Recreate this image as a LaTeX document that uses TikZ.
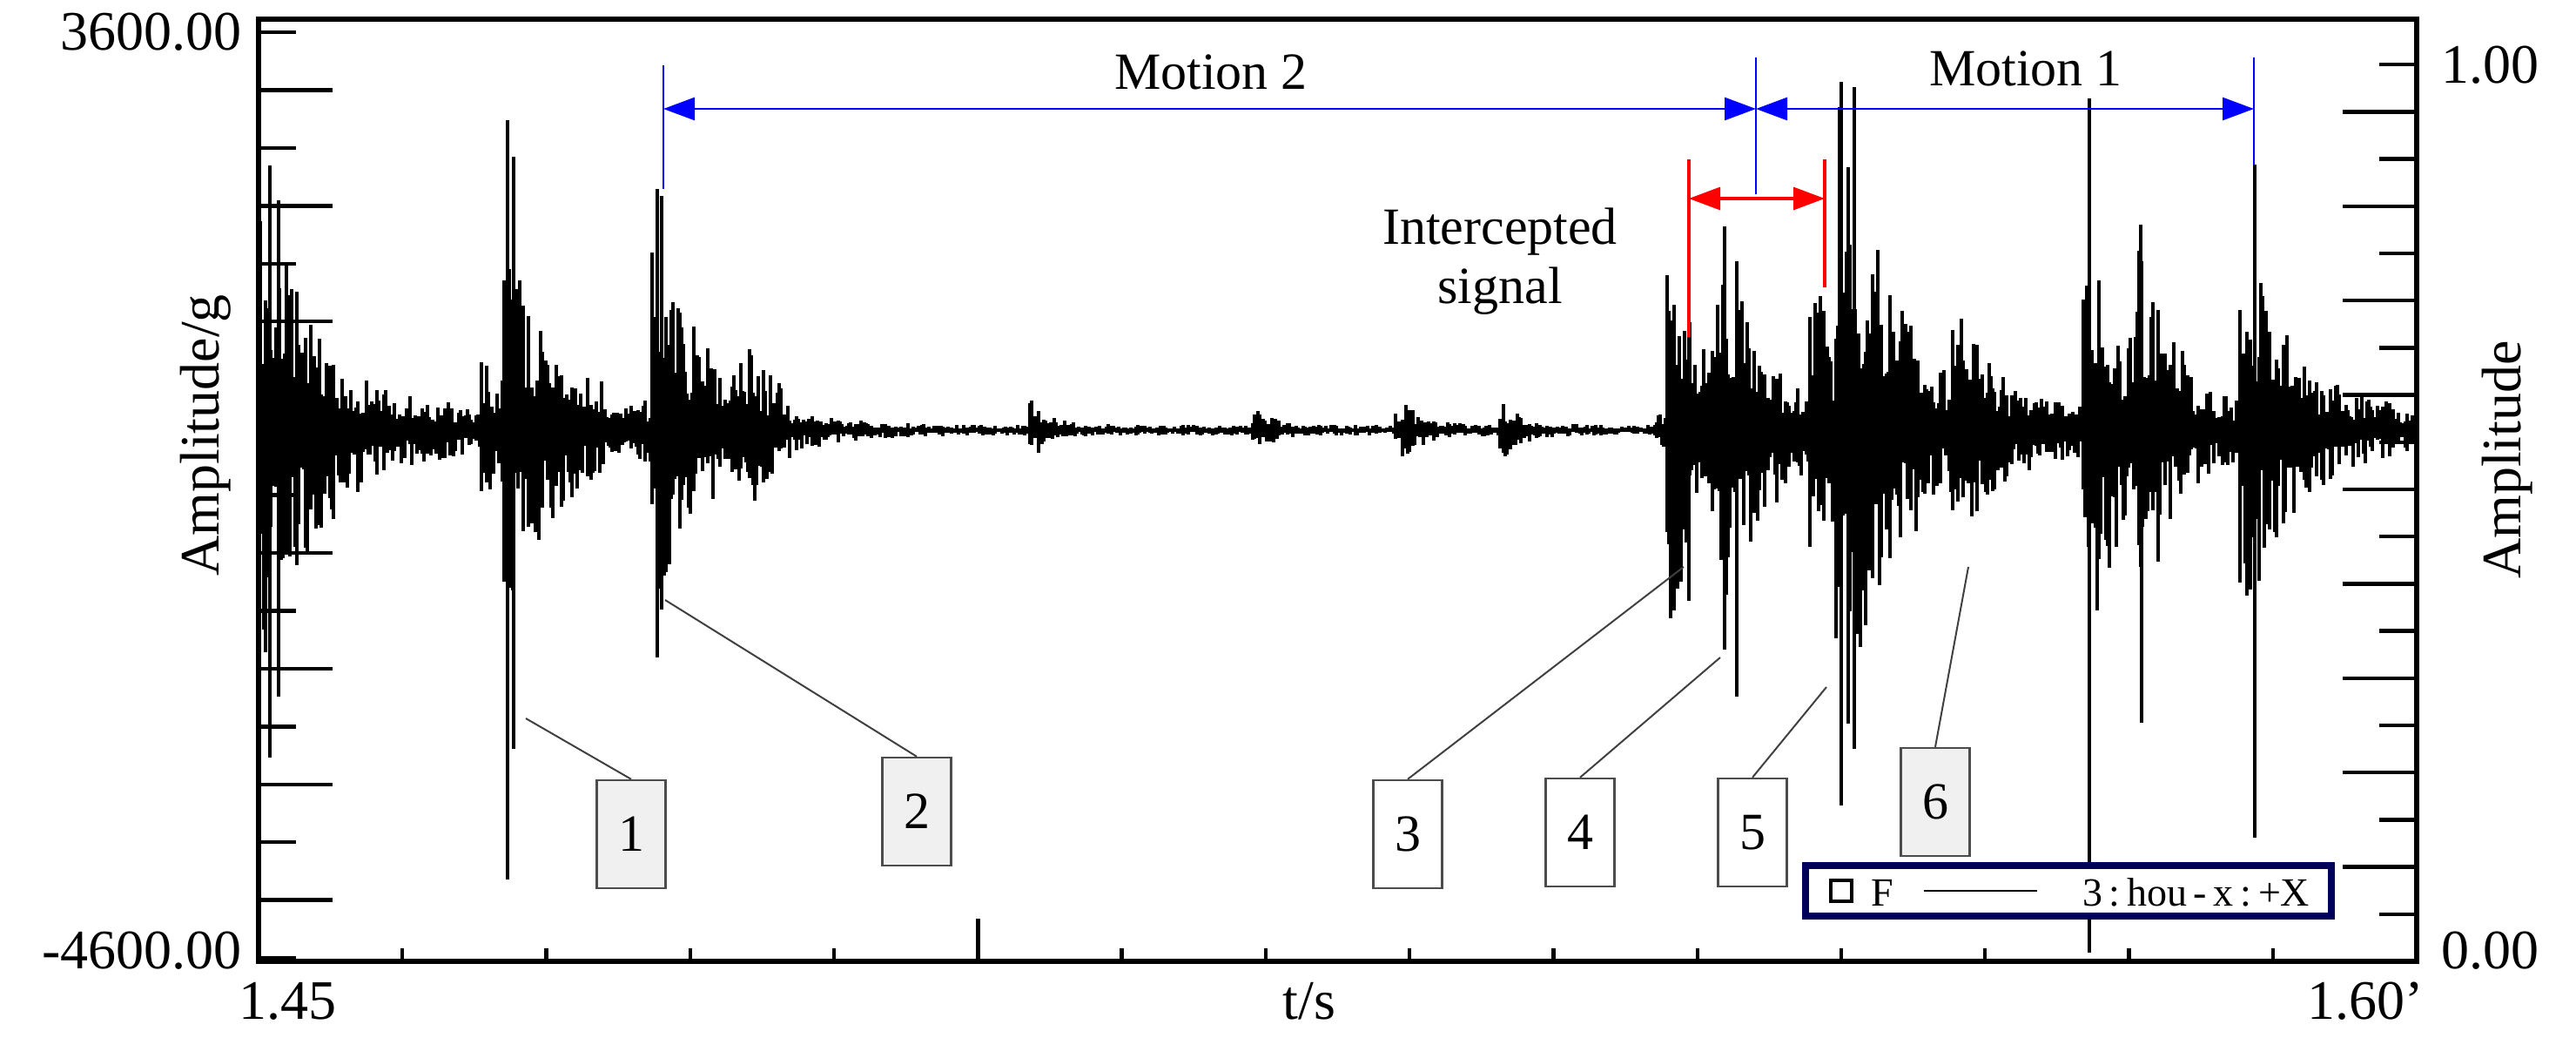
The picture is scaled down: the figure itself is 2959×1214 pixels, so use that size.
\documentclass[tikz,border=0pt]{standalone}
\usepackage{fontspec}
\setmainfont{Liberation Serif}
\usetikzlibrary{arrows.meta}
\pgfmathdeclarefunction{B}{4}{\pgfmathparse{#3*exp(-min(max(#1-#2,0)/#4,8))*(#1>#2-8)}}
\begin{document}
\begin{tikzpicture}[x=0.25pt,y=-0.25pt,
  sig/.style={line width=0.8pt,black},
  tick/.style={line width=1.1pt},
  lbl/.style={draw=black!70,line width=0.6pt,minimum width=19.75pt,minimum height=31pt,inner sep=0pt,font=\fontsize{15}{15}\selectfont},
  lead/.style={black!75,line width=0.5pt},
  ax/.style={font=\fontsize{16}{16}\selectfont},
  bl/.style={blue,line width=0.7pt},
  rd/.style={red,line width=0.8pt},
  tip/.style={{Triangle[length=9pt,width=6.5pt]}-{Triangle[length=9pt,width=6.5pt]}},
  declare function={env(\x)=6+14*(\x<900)+16*(\x>1900)
   +B(\x,297,280,70)+B(\x,560,55,30)+B(\x,583,170,70)+B(\x,755,200,60)+B(\x,850,60,30)
   +B(\x,1190,28,20)+B(\x,1445,22,20)+B(\x,1610,28,25)+B(\x,1730,28,20)
   +B(\x,1922,200,45)+B(\x,1980,180,45)+B(\x,2085,150,35)+B(\x,2115,300,70)
   +B(\x,2250,80,40)+B(\x,2400,240,45)+B(\x,2460,150,40)+B(\x,2580,200,55);}]
\useasboundingbox (0,0) rectangle (2959,1214);
\pgfmathsetseed{7}
% signal
\foreach \x in {299,301,...,2773}{
  \pgfmathsetmacro\e{env(\x)}
  \pgfmathsetmacro\u{\e*(0.25+0.75*rnd^2)}
  \pgfmathsetmacro\d{\e*(0.25+0.75*rnd^2)}
  \draw[sig] (\x,494-\u) -- (\x,494+\d);
}
% explicit spikes
\foreach \x/\a/\b in {583/138/1010,590/180/860,755/217/755,760/225/700,1940/270/690,1995/300/800,2115/94/925,2130/100/860,2400/113/1094,2460/300/830,2590/189/962,310/190/870,320/230/800}
  \draw[sig,line width=1.1pt] (\x,\a) -- (\x,\b);
% frame
\draw[line width=1.3pt] (297,22) rectangle (2776,1104);
\foreach \k in {0,...,16}{
  \pgfmathsetmacro\yy{37+66.44*\k}
  \pgfmathtruncatemacro\odd{mod(\k,2)}
  \ifnum\odd=1 \draw[tick] (297,\yy) -- (382,\yy); \else \draw[tick] (297,\yy) -- (340,\yy); \fi
}
\foreach \k in {1,...,19}{
  \pgfmathsetmacro\yy{1104-54.2*\k}
  \pgfmathtruncatemacro\odd{mod(\k,2)}
  \ifnum\odd=0 \draw[tick] (2776,\yy) -- (2691,\yy); \else \draw[tick] (2776,\yy) -- (2733,\yy); \fi
}
\foreach \k in {1,...,14}{
  \pgfmathsetmacro\xx{297+165.27*\k}
  \ifnum\k=5 \draw[tick] (\xx,1104) -- (\xx,1055); \else \draw[tick] (\xx,1104) -- (\xx,1089); \fi
}
% axis labels
\node[ax,anchor=east] (ytop) at (292,37) {3600.00};
\node[ax,anchor=east] (ybot) at (292,1092) {-4600.00};
\node[ax,anchor=west] (rtop) at (2790,75) {1.00};
\node[ax,anchor=west] (rbot) at (2790,1092) {0.00};
\node[ax] (x0) at (330,1150) {1.45};
\node[ax] (x1) at (2717,1150) {1.60'};
\node[ax] (xt) at (1504,1150) {t/s};
\node[ax,rotate=90] (yl) at (236,500) {Amplitude/g};
\node[ax,rotate=90] (yr) at (2880,528) {Amplitude};
% motion arrows
\coordinate (m2a) at (762,125); \coordinate (m2b) at (2017,125); \coordinate (m1b) at (2589,125);
\draw[bl] (762,75) -- (762,217);
\draw[bl] (2017,66) -- (2017,223);
\draw[bl] (2589,66) -- (2589,189);
\draw[bl,tip] (m2a) -- (m2b);
\draw[bl,tip] (m2b) -- (m1b);
\node[font=\fontsize{15}{15}\selectfont] (mt2) at (1391,83) {Motion 2};
\node[font=\fontsize{15}{15}\selectfont] (mt1) at (2327,79) {Motion 1};
% intercepted
\coordinate (ra) at (1940,228); \coordinate (rb) at (2096,228);
\draw[rd] (1940,183) -- (1940,387);
\draw[rd] (2096,183) -- (2096,330);
\draw[rd,tip] (ra) -- (rb);
\node[font=\fontsize{15}{17}\selectfont,align=center] (int) at (1723,300) {Intercepted\\signal};
% labels
\node[lbl,fill=black!6] (l1) at (725,958) {1};
\node[lbl,fill=black!6] (l2) at (1053,932) {2};
\node[lbl,fill=white] (l3) at (1617,958) {3};
\node[lbl,fill=white] (l4) at (1815,956) {4};
\node[lbl,fill=white] (l5) at (2013,956) {5};
\node[lbl,fill=black!6] (l6) at (2223,921) {6};
\coordinate (p1) at (604,825); \coordinate (p2) at (764,689); \coordinate (p3) at (1934,651);
\coordinate (p4) at (1976,755); \coordinate (p5) at (2098,789); \coordinate (p6) at (2261,651);
\foreach \i in {1,...,6} \draw[lead] (l\i.north) -- (p\i);
% legend
\definecolor{navy}{RGB}{0,0,90}
\node[draw=navy,line width=2pt,fill=white,minimum width=151pt,minimum height=14.5pt,inner sep=0pt] (leg) at (2376,1023) {};
\node[draw,line width=0.9pt,minimum size=6pt,inner sep=0pt] (lsq) at (2115,1023) {};
\node[font=\fontsize{11.5}{11.5}\selectfont,anchor=west] (lf) at (2135,1025) {F};
\coordinate (la) at (2210,1023); \coordinate (lb) at (2340,1023);
\draw[line width=0.7pt] (la) -- (lb);
\node[font=\fontsize{11.5}{11.5}\selectfont,anchor=west] (lt) at (2378,1025) {3\,:\,hou\,-\,x\,:\,+X};
\end{tikzpicture}
\end{document}
